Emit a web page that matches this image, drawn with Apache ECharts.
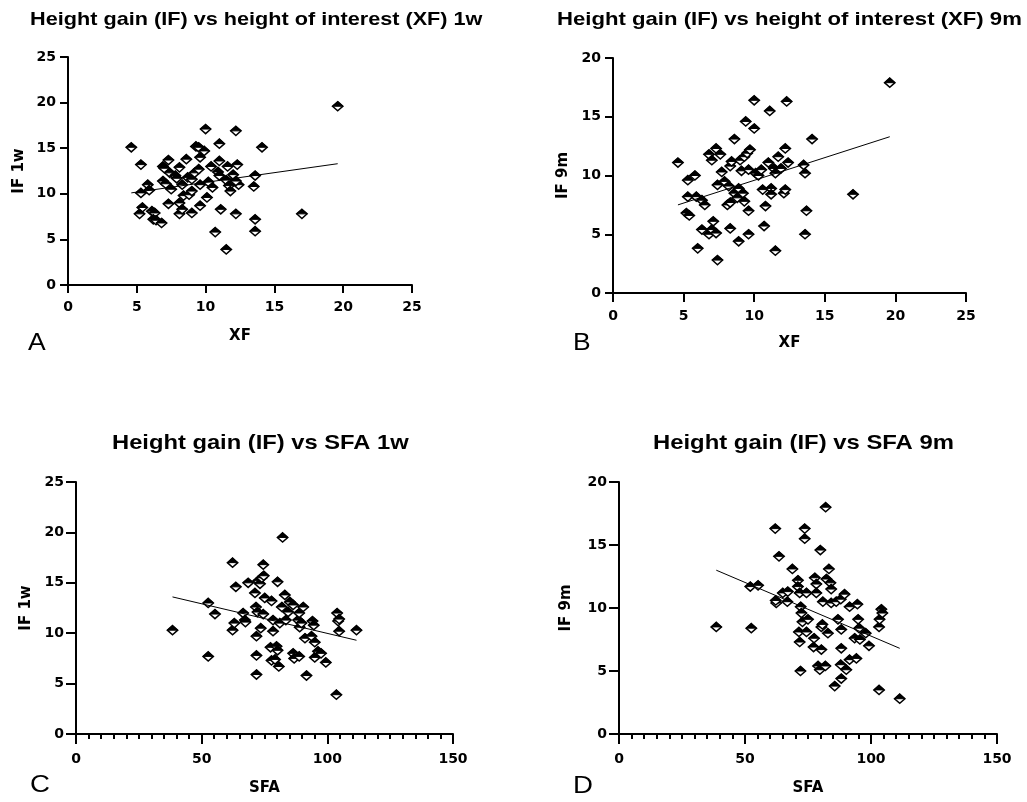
<!DOCTYPE html>
<html>
<head>
<meta charset="utf-8">
<script src="https://cdn.jsdelivr.net/npm/echarts@6/dist/echarts.min.js"></script>
<style>
html,body{margin:0;padding:0;background:#fff;}
#chart{width:1027px;height:802px;}
</style>
</head>
<body>
<div id="chart"></div>
<script>
// ---- Data ----
const ifVsXf1w = [
[4.6,15.1],[5.3,13.2],[5.3,10.1],[5.8,11.0],[5.9,10.4],[5.4,8.5],[5.2,7.8],[6.1,8.1],[6.3,7.9],[6.2,7.2],
[6.4,7.1],[6.8,6.8],[6.9,11.4],[6.9,13.0],[7.0,12.8],[7.3,13.7],[7.4,12.3],[7.5,10.5],[7.3,8.9],[7.1,11.1],
[7.8,12.0],[7.9,11.7],[8.1,12.9],[8.6,13.8],[8.3,11.0],[8.4,9.8],[8.1,9.0],[8.1,7.8],[8.3,8.3],[8.7,11.8],
[9.0,7.9],[9.0,11.6],[8.8,9.9],[9.0,10.3],[9.2,12.3],[9.3,15.2],[9.5,15.1],[9.5,12.7],[9.6,11.0],[9.6,14.0],
[9.6,8.7],[9.9,14.7],[10.0,17.1],[10.1,9.6],[10.2,11.3],[10.4,13.0],[10.5,10.7],[10.7,5.8],[10.9,12.4],[11.0,13.6],
[11.0,15.5],[11.0,12.0],[11.1,8.3],[11.5,11.5],[11.5,3.9],[11.6,13.0],[11.7,10.9],[11.8,10.3],[12.0,12.1],[12.2,7.8],
[12.2,16.9],[12.3,13.2],[12.4,11.0],[12.2,11.4],[13.5,10.8],[13.6,12.0],[13.6,7.2],[13.6,5.9],[14.1,15.1],[17.0,7.8],
[19.6,19.6]
];
const ifVsXf9m = [
[4.6,11.1],[5.3,9.6],[5.8,10.0],[5.2,6.8],[5.4,6.6],[5.3,8.2],[5.9,8.2],[6.3,7.9],[6.5,7.5],[6.3,5.4],
[6.0,3.8],[6.8,5.0],[7.0,5.4],[7.1,6.1],[7.3,5.1],[7.4,2.8],[6.8,11.8],[7.0,11.3],[7.3,12.3],[7.6,11.8],
[7.4,9.2],[7.7,10.3],[7.9,9.5],[8.2,9.1],[8.1,7.5],[8.3,7.7],[8.3,10.8],[8.4,11.2],[8.6,13.1],[8.3,5.5],
[8.6,8.5],[8.8,8.1],[8.9,8.9],[8.9,4.4],[9.0,11.3],[9.1,10.4],[9.2,8.5],[9.3,7.8],[9.3,11.6],[9.4,14.6],
[9.5,11.9],[9.6,7.0],[9.6,5.0],[9.7,12.2],[9.6,10.5],[10.0,16.4],[10.0,14.0],[10.1,10.2],[10.3,10.0],[10.5,10.5],
[10.6,8.8],[10.7,5.7],[10.8,7.4],[11.0,11.1],[11.1,15.5],[11.2,8.9],[11.2,8.4],[11.4,10.6],[11.5,3.6],[11.5,10.2],
[11.7,11.6],[11.9,10.6],[12.1,8.5],[12.2,8.8],[12.2,12.3],[12.3,16.3],[12.4,11.1],[13.5,10.9],[13.6,10.2],[13.7,7.0],
[13.6,5.0],[14.1,13.1],[17.0,8.4],[19.6,17.9]
];
const ifVsSfa1w = [
[38.4,10.3],[52.6,13.0],[52.6,7.7],[55.3,11.9],[62.3,17.0],[63.6,14.6],[62.3,10.3],[63.0,11.0],[66.5,12.0],[67.2,11.3],
[67.4,11.1],[68.5,15.0],[71.2,14.0],[71.6,12.6],[72.2,12.1],[71.8,9.7],[71.8,7.8],[71.8,5.9],[72.5,15.2],[73.2,14.9],
[73.9,15.5],[74.7,15.7],[74.5,16.8],[75.1,13.5],[74.5,11.9],[73.5,10.5],[77.8,13.2],[78.4,11.3],[78.4,10.2],[77.4,8.6],
[77.8,7.3],[79.2,7.4],[79.8,8.7],[80.2,8.3],[80.7,6.7],[80.2,15.1],[82.2,19.5],[81.9,12.6],[81.1,11.0],[83.1,13.8],
[83.5,11.3],[84.4,12.1],[85.1,13.1],[86.4,12.8],[86.4,8.0],[86.8,7.5],[88.4,11.3],[88.8,12.0],[89.0,10.6],[89.7,11.0],
[88.8,7.7],[90.4,12.6],[91.1,9.5],[91.7,5.8],[93.7,9.7],[94.1,11.2],[94.6,10.8],[95.0,9.1],[95.0,7.6],[96.3,8.2],
[97.5,8.0],[99.4,7.1],[103.6,3.9],[103.9,12.0],[104.3,11.2],[104.7,11.4],[104.7,10.2],[111.6,10.3]
];
const ifVsSfa9m = [
[38.6,8.5],[52.5,8.4],[52.1,11.7],[55.2,11.8],[62.0,16.3],[63.5,14.1],[62.4,10.4],[62.2,10.6],[65.0,11.2],[66.8,10.5],
[67.0,11.3],[68.8,13.1],[71.0,12.2],[71.0,11.7],[71.7,11.2],[72.1,10.1],[72.4,9.6],[72.8,8.9],[71.4,8.1],[71.7,7.3],
[72.0,5.0],[73.7,16.3],[73.7,15.5],[74.4,11.2],[75.0,9.1],[74.4,8.1],[77.2,6.9],[77.4,7.6],[77.7,12.4],[78.3,11.9],
[78.3,11.2],[79.0,5.4],[79.7,5.1],[80.3,6.7],[80.3,8.5],[80.7,8.7],[79.9,14.6],[80.9,10.5],[82.0,18.0],[82.3,12.3],
[82.9,8.0],[81.9,5.4],[83.3,13.1],[83.9,12.0],[84.2,11.5],[84.2,10.4],[85.6,3.8],[86.2,10.5],[86.9,9.1],[88.0,10.7],
[88.2,8.3],[88.2,6.8],[88.0,5.5],[88.2,4.4],[89.5,11.1],[90.2,5.1],[91.5,10.1],[91.5,5.9],[93.5,7.6],[94.2,6.0],
[94.6,10.3],[94.9,9.1],[95.3,8.4],[95.6,7.5],[97.9,8.0],[99.2,7.0],[103.2,3.5],[103.2,8.5],[103.4,9.1],[104.1,9.9],
[104.5,9.6],[111.4,2.8]
];
// fitted regression lines (end points)
const fitXf1w = [[4.6,10.1],[19.6,13.3]];
const fitXf9m = [[4.6,7.5],[19.6,13.3]];
const fitSfa1w = [[38.4,13.6],[111.6,9.3]];
const fitSfa9m = [[38.6,13.0],[111.4,6.8]];

const titles = [
  'Height gain (IF) vs height of interest (XF) 1w',
  'Height gain (IF) vs height of interest (XF) 9m',
  'Height gain (IF) vs SFA 1w',
  'Height gain (IF) vs SFA 9m'
];
const panelLetters = ['A','B','C','D'];
const xNames = ['XF','XF','SFA','SFA'];
const yNames = ['IF 1w','IF 9m','IF 1w','IF 9m'];
const xRanges = [[0,25,5],[0,25,5],[0,150,50],[0,150,50]];
const yRanges = [[0,25,5],[0,20,5],[0,25,5],[0,20,5]];
const pointSets = [ifVsXf1w, ifVsXf9m, ifVsSfa1w, ifVsSfa9m];
const fitSets = [fitXf1w, fitXf9m, fitSfa1w, fitSfa9m];

// ---- Layout ----
const grids = [
  {left:68, top:57, width:344, height:228},
  {left:613, top:58, width:353, height:235},
  {left:76, top:482, width:377, height:252},
  {left:619, top:482, width:378, height:252}
];
// title: [left x, centre y, font size, horizontal stretch]
const titleLayout = [[30,20,19,1.14],[557,20,19,1.165],[112,443,21,1.13],[653,443,21,1.136]];
// letter: [left x, centre y, font size]
const letterLayout = [[28,344,23],[573,344,23],[30,785,24],[573,786,24]];
const xLabelMargin = [15,16,18,18];
const xTickLen = [8,9,10,10];
const yTickLen = [8,8,10,10];
const xNameGap = [44,43,47,47];
const yNameGap = [41,42,42,45];

const FONT = '"Liberation Sans", Arial, sans-serif';
const WIDE = '"DejaVu Sans", "Liberation Sans", sans-serif';

function renderDiamond(params, api) {
  const p = api.coord([api.value(0), api.value(1)]);
  const w = 5.2, h = 4.6;
  return {
    type:'group',
    children:[
      {type:'polygon', shape:{points:[[p[0],p[1]-h],[p[0]+w,p[1]],[p[0],p[1]+h],[p[0]-w,p[1]]]},
       style:{fill:'#fff', stroke:'#000', lineWidth:1.5}},
      {type:'polygon', shape:{points:[[p[0]-w,p[1]],[p[0],p[1]-h],[p[0]+w,p[1]]]},
       style:{fill:'#000', stroke:'#000', lineWidth:1}}
    ]
  };
}

const graphics = [];
titles.forEach((t,i)=>{
  const L = titleLayout[i];
  graphics.push({type:'text', x:L[0], y:L[1], scaleX:L[3], originX:0, originY:0,
    style:{text:t, font:'bold ' + L[2] + 'px ' + FONT, fill:'#000', align:'left', verticalAlign:'middle'}});
});
panelLetters.forEach((l,i)=>{
  const L = letterLayout[i];
  graphics.push({type:'text', x:L[0], y:L[1], scaleX:1.15, originX:0, originY:0,
    style:{text:l, font:L[2] + 'px ' + FONT, fill:'#000', align:'left', verticalAlign:'middle'}});
});

const option = {
  backgroundColor:'#fff',
  animation:false,
  graphic: graphics,
  grid: grids,
  xAxis: grids.map((g,i)=>({
    gridIndex:i, type:'value', min:xRanges[i][0], max:xRanges[i][1], interval:xRanges[i][2],
    name:xNames[i], nameLocation:'middle', nameGap:xNameGap[i],
    nameTextStyle:{fontFamily:WIDE, fontSize:15, fontWeight:'bold', color:'#000'},
    axisLine:{show:true, onZero:false, lineStyle:{color:'#000', width:2}},
    axisTick:{show:true, length:xTickLen[i], lineStyle:{color:'#000', width:2}},
    minorTick:{show: i>=2, splitNumber:10, length:5, lineStyle:{color:'#000', width:2}},
    axisLabel:{fontFamily:WIDE, fontSize:14, fontWeight:'bold', color:'#000', margin:xLabelMargin[i]},
    splitLine:{show:false}
  })),
  yAxis: grids.map((g,i)=>({
    gridIndex:i, type:'value', min:yRanges[i][0], max:yRanges[i][1], interval:yRanges[i][2],
    name:yNames[i], nameLocation:'middle', nameGap:yNameGap[i], nameRotate:90,
    nameTextStyle:{fontFamily:WIDE, fontSize:15, fontWeight:'bold', color:'#000'},
    axisLine:{show:true, onZero:false, lineStyle:{color:'#000', width:2}},
    axisTick:{show:true, length:yTickLen[i], lineStyle:{color:'#000', width:2}},
    axisLabel:{fontFamily:WIDE, fontSize:14, fontWeight:'bold', color:'#000', margin:12},
    splitLine:{show:false}
  })),
  series: [].concat(
    pointSets.map((d,i)=>({
      type:'custom', xAxisIndex:i, yAxisIndex:i, data:d,
      encode:{x:0, y:1}, renderItem:renderDiamond, z:2
    })),
    fitSets.map((d,i)=>({
      type:'line', xAxisIndex:i, yAxisIndex:i, data:d, showSymbol:false, symbol:'none',
      lineStyle:{color:'#000', width:1}, z:3, silent:true
    }))
  )
};

const chart = echarts.init(document.getElementById('chart'), null, {renderer:'canvas'});
chart.setOption(option);
</script>
</body>
</html>
